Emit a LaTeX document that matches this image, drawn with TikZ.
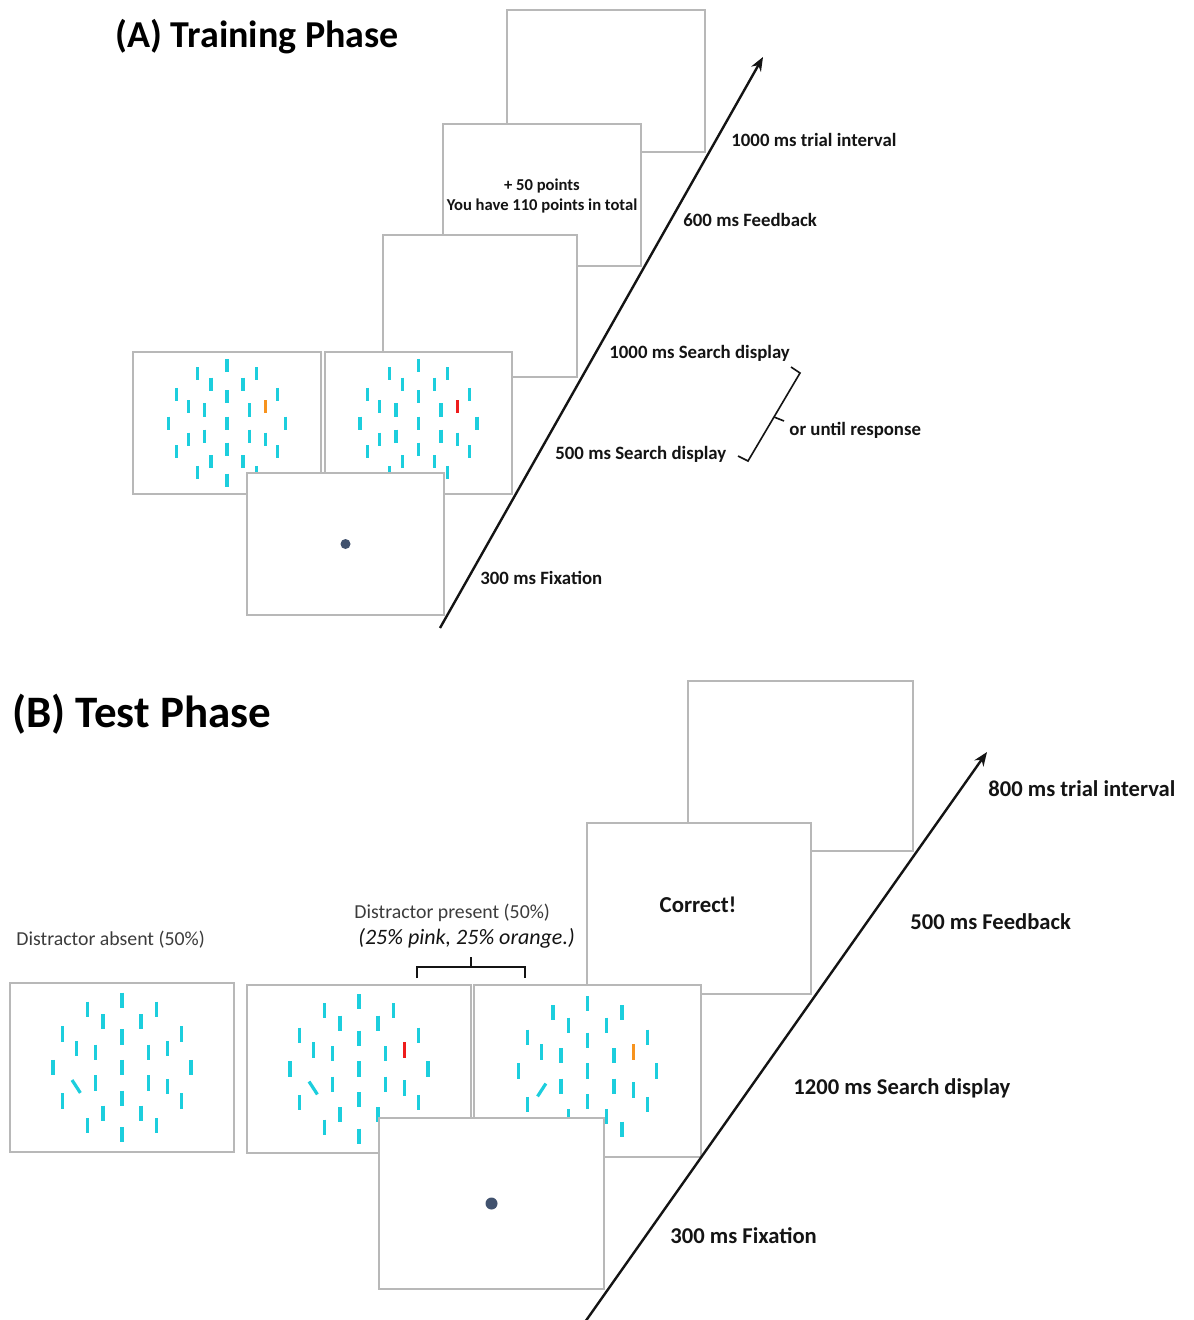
\documentclass[tikz,border=0pt]{standalone}
\usepackage{fontspec}
\setmainfont{Carlito}
\usetikzlibrary{arrows.meta,calc}

\definecolor{framegray}{HTML}{B8B8B8}
\definecolor{barcyan}{HTML}{1CCEDD}
\definecolor{tgtorange}{HTML}{F7931E}
\definecolor{tgtred}{HTML}{EE1C1C}
\definecolor{dotblue}{HTML}{41526E}
\definecolor{inktext}{HTML}{141414}
\definecolor{greytext}{HTML}{3C3C3C}

\tikzset{
  screen/.style={draw=framegray, line width=0.8pt, fill=white, inner sep=0pt},
  stimbar/.style={draw=barcyan, line width=1.6pt},
  timeline/.style={draw=inktext, line width=1.2pt, -{Stealth[length=7pt,width=5.5pt]}},
  bracket/.style={draw=inktext, line width=0.8pt},
  fixdot/.style={circle, fill=dotblue, inner sep=0pt},
  labA/.style={anchor=west, inner sep=0pt, text=inktext, font=\fontsize{9.4}{11}\selectfont\bfseries},
  labB/.style={anchor=west, inner sep=0pt, text=inktext, font=\fontsize{11.3}{13}\selectfont\bfseries},
}

% search array: centre node, scale, colour of the singleton, tilt of the oblique item
\newcommand\stimarray[4]{%
  \begin{scope}[shift={(#1.center)},scale=#2]
    \draw[stimbar] (0,-6.5) -- (0,6.5);
    \foreach \ang in {0,60,...,300}
      \draw[stimbar] ({26*sin(\ang)},{-26*cos(\ang)-6.5}) -- ++(0,13);
    \foreach \ang in {22.5,112.5,157.5,202.5,292.5,337.5}
      \draw[stimbar] ({42*sin(\ang)},{-42*cos(\ang)-6.5}) -- ++(0,13);
    \foreach \ang in {0,30,...,330}
      \draw[stimbar] ({58.5*sin(\ang)},{-57*cos(\ang)-6.5}) -- ++(0,13);
    \draw[stimbar,draw=#3] ({42*sin(67.5)},{-42*cos(67.5)-6.5}) -- ++(0,13);
    \draw[stimbar] ({42*sin(247.5)-6.5*sin(#4)},{-42*cos(247.5)-6.5*cos(#4)}) -- ++({13*sin(#4)},{13*cos(#4)});
  \end{scope}}

\begin{document}
\begin{tikzpicture}[x=0.5pt,y=-0.5pt]
\useasboundingbox (0,0) rectangle (1193,1320);
\fill[white] (0,0) rectangle (1193,1320);

% ---------------- (A) training phase ----------------
\node[anchor=west, inner sep=0pt, text=black, font=\fontsize{19}{22}\selectfont\bfseries] (titleA) at (115,37) {(A) Training Phase};

\node[screen, minimum width=99pt, minimum height=71pt] (aTrial) at (606,81) {};
\node[screen, minimum width=99pt, minimum height=71pt] (aFeed) at (542,195) {};
\node[align=center, inner sep=0pt, text=inktext, font=\fontsize{8.3}{10}\selectfont\bfseries] (aFeedText) at (542,196) {+ 50 points\\You have 110 points in total};
\node[screen, minimum width=97pt, minimum height=71pt] (aBlank) at (480,306) {};
\node[screen, minimum width=94pt, minimum height=71pt] (aSearchOne) at (227,423) {};
\node[screen, minimum width=93.5pt, minimum height=71pt] (aSearchTwo) at (418.5,423) {};
\stimarray{aSearchOne}{1}{tgtorange}{0}
\stimarray{aSearchTwo}{1}{tgtred}{0}
\node[screen, minimum width=98.5pt, minimum height=71pt] (aFix) at (345.5,544) {};
\node[fixdot, minimum size=5pt] (aDot) at (aFix.center) {};

\coordinate (aStart) at (440,628);
\coordinate (aEnd) at (763,57);
\draw[timeline] (aStart) -- (aEnd);

\node[labA] (aL1) at (731,140) {1000 ms trial interval};
\node[labA] (aL2) at (683,220) {600 ms Feedback};
\node[labA] (aL3) at (609,353) {1000 ms Search display};
\node[labA] (aL4) at (555,454) {500 ms Search display};
\node[labA] (aL5) at (480,578) {300 ms Fixation};
\node[labA] (aL6) at (789,430) {or until response};

\coordinate (aBrTop) at (791,367);
\coordinate (aBrTopBend) at (800,373);
\coordinate (aBrMid) at (774,417);
\coordinate (aBrTip) at (784,421);
\coordinate (aBrBotBend) at (748,461);
\coordinate (aBrBot) at (738,456);
\draw[bracket] (aBrTop) -- (aBrTopBend) -- (aBrBotBend) -- (aBrBot);
\draw[bracket] (aBrMid) -- (aBrTip);

% ---------------- (B) test phase ----------------
\node[anchor=west, inner sep=0pt, text=black, font=\fontsize{22.5}{26}\selectfont\bfseries] (titleB) at (12,714) {(B) Test Phase};

\node[screen, minimum width=112.5pt, minimum height=85pt] (bTrial) at (800.5,766) {};
\node[screen, minimum width=112pt, minimum height=85.5pt] (bFeed) at (699,908.5) {};
\node[inner sep=0pt, text=inktext, font=\fontsize{11.4}{13}\selectfont\bfseries] (bFeedText) at (698,905) {Correct!};
\node[screen, minimum width=112pt, minimum height=84.5pt] (bAbsent) at (122,1067.5) {};
\node[screen, minimum width=112pt, minimum height=84pt] (bPink) at (359,1069) {};
\node[screen, minimum width=113.5pt, minimum height=86pt] (bOrange) at (587.5,1071) {};
\stimarray{bAbsent}{1.18}{barcyan}{33}
\stimarray{bPink}{1.18}{tgtred}{33}
\stimarray{bOrange}{1.18}{tgtorange}{-33}
\node[screen, minimum width=112.5pt, minimum height=85.5pt] (bFix) at (491.5,1203.5) {};
\node[fixdot, minimum size=6pt] (bDot) at (bFix.center) {};

\coordinate (bStart) at (585,1322);
\coordinate (bEnd) at (987,752);
\draw[timeline] (bStart) -- (bEnd);

\node[labB] (bL1) at (988,789) {800 ms trial interval};
\node[labB] (bL2) at (910,922) {500 ms Feedback};
\node[labB] (bL3) at (793,1088) {1200 ms Search display};
\node[labB] (bL4) at (670,1236) {300 ms Fixation};

\node[anchor=west, inner sep=0pt, text=greytext, font=\fontsize{9.9}{12}\selectfont] (bAbsLab) at (16,940) {Distractor absent (50\%)};
\node[anchor=west, inner sep=0pt, text=greytext, font=\fontsize{9.9}{12}\selectfont] (bPresLab) at (354,913) {Distractor present (50\%)};
\node[anchor=west, inner sep=0pt, text=inktext, font=\fontsize{11}{13}\selectfont\itshape] (bPresSub) at (358,938) {(25\% pink, 25\% orange.)};

\coordinate (bBrL) at (417,978);
\coordinate (bBrLTop) at (417,967);
\coordinate (bBrRTop) at (525,967);
\coordinate (bBrR) at (525,978);
\coordinate (bBrMid) at (471,967);
\coordinate (bBrTip) at (471,957);
\draw[bracket] (bBrL) -- (bBrLTop) -- (bBrRTop) -- (bBrR);
\draw[bracket] (bBrMid) -- (bBrTip);
\end{tikzpicture}
\end{document}
